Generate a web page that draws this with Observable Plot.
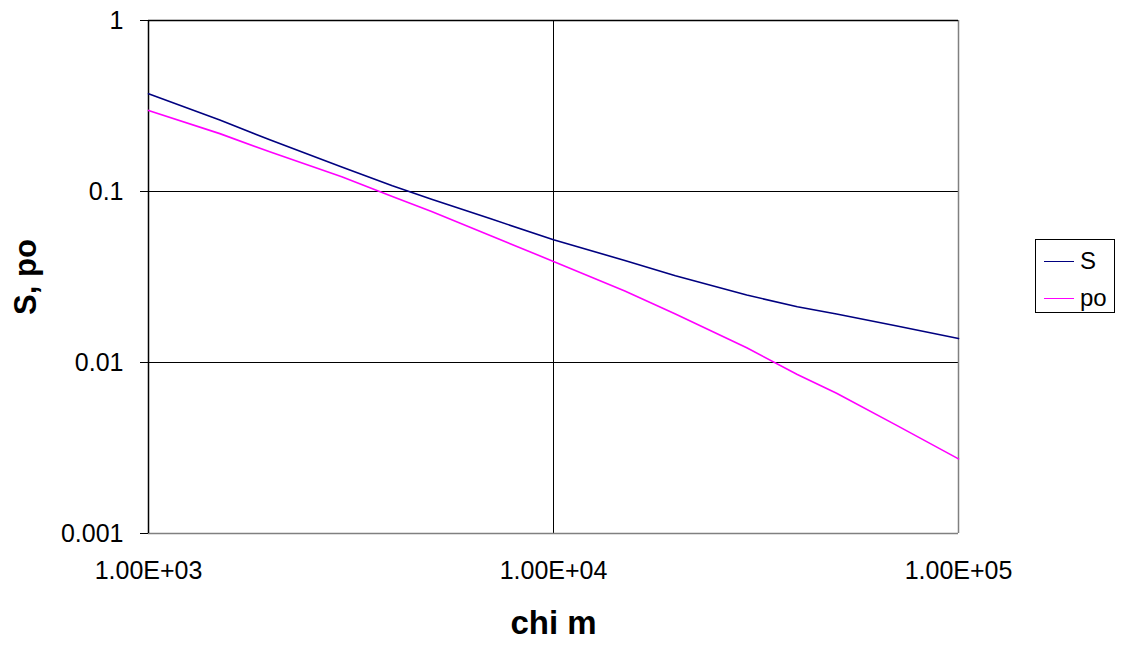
<!DOCTYPE html>
<html>
<head>
<meta charset="utf-8">
<script src="https://cdn.jsdelivr.net/npm/d3@7"></script>
<script src="https://cdn.jsdelivr.net/npm/@observablehq/plot@0.6"></script>
<style>
  html, body { margin: 0; padding: 0; background: #fff; }
  #wrap { position: relative; width: 1121px; height: 645px; font-family: "Liberation Sans", Arial, sans-serif; }
  #legend { position: absolute; left: 1035px; top: 239px; width: 80px; height: 74px; border: 1px solid #000; background: #fff; box-sizing: border-box; }
  .item { position: absolute; left: 8px; height: 30px; display: flex; align-items: center; font-size: 24px; color: #000; }
  .swatch { width: 30px; height: 0; border-top: 2px solid; margin-right: 6px; }
</style>
</head>
<body>
<div id="wrap"><div id="legend"></div></div>
<script>
const chiM = [1000, 1500, 2000, 3000, 4000, 5000, 7000, 10000, 15000, 20000, 30000, 40000, 50000, 70000, 100000];
const S    = [0.373, 0.262, 0.200, 0.139, 0.108, 0.0902, 0.0692, 0.0522, 0.0395, 0.0322, 0.0248, 0.0212, 0.0192, 0.0164, 0.0138];
const po   = [0.298, 0.218, 0.170, 0.122, 0.0935, 0.0763, 0.0551, 0.0390, 0.0262, 0.0192, 0.0122, 0.0085, 0.00661, 0.00432, 0.00273];
const seriesNames = ["S", "po"];
const seriesColors = ["#000080", "#FF00FF"];
const xTicks = [1000, 10000, 100000];
const xTickLabels = ["1.00E+03", "1.00E+04", "1.00E+05"];
const yTicks = [0.001, 0.01, 0.1, 1];
const yTickLabels = ["0.001", "0.01", "0.1", "1"];

const rows = [];
chiM.forEach((x, i) => {
  rows.push({x, y: S[i], s: "S"});
  rows.push({x, y: po[i], s: "po"});
});

const chart = Plot.plot({
  width: 1121, height: 645,
  marginLeft: 148, marginRight: 163, marginTop: 20, marginBottom: 112,
  style: {fontFamily: "'Liberation Sans', Arial, sans-serif", background: "#fff", color: "#000"},
  x: {type: "log", domain: [1e3, 1e5]},
  y: {type: "log", domain: [0.001, 1]},
  color: {domain: seriesNames, range: seriesColors},
  marks: [
    Plot.ruleX([1e4], {stroke: "#000", strokeWidth: 1}),
    Plot.ruleY([0.01, 0.1], {stroke: "#000", strokeWidth: 1}),
    Plot.ruleX([1e5], {stroke: "#808080", strokeWidth: 1.5}),
    Plot.ruleY([0.001], {stroke: "#808080", strokeWidth: 1.5}),
    Plot.ruleX([1e3], {stroke: "#000", strokeWidth: 1.5}),
    Plot.ruleY([1], {stroke: "#000", strokeWidth: 1.5}),
    Plot.axisX({ticks: xTicks, tickFormat: d => xTickLabels[xTicks.indexOf(d)], tickSize: 0, tickPadding: 28, fontSize: 25, label: null}),
    Plot.axisY({ticks: yTicks, tickFormat: d => yTickLabels[yTicks.indexOf(d)], tickSize: 8, tickPadding: 17, fontSize: 25, label: null}),
    Plot.line(rows, {x: "x", y: "y", z: "s", stroke: "s", strokeWidth: 1.6}),
    Plot.text(["chi m"], {frameAnchor: "bottom", textAnchor: "middle", dy: 100, lineAnchor: "bottom", fontSize: 33, fontWeight: "bold", fill: "#000"}),
    Plot.text(["S, po"], {frameAnchor: "left", textAnchor: "middle", dx: -113, rotate: -90, lineAnchor: "bottom", fontSize: 31, fontWeight: "bold", fill: "#000"})
  ]
});
document.getElementById("wrap").prepend(chart);

const legend = document.getElementById("legend");
seriesNames.forEach((name, i) => {
  const item = document.createElement("div");
  item.className = "item";
  item.style.top = (6 + i * 37) + "px";
  const sw = document.createElement("span");
  sw.className = "swatch";
  sw.style.borderTopColor = seriesColors[i];
  sw.style.borderTopWidth = "1.5px";
  const lab = document.createElement("span");
  lab.textContent = name;
  item.append(sw, lab);
  legend.append(item);
});
</script>
</body>
</html>
